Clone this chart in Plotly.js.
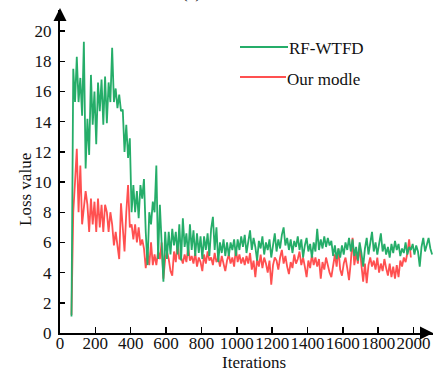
<!DOCTYPE html>
<html><head><meta charset="utf-8">
<script src="https://cdn.plot.ly/plotly-3.0.1.min.js"></script>
<style>html,body{margin:0;padding:0;background:#fff}#chart{width:440px;height:371px}</style>
</head><body><div id="chart"></div>
<script>
const iterations = [
  65,75,85,95,105,115,125,135,145,155,
  165,175,185,195,205,215,225,235,245,255,
  265,275,285,295,305,315,325,335,345,355,
  365,375,385,395,405,415,425,435,445,455,
  465,475,485,495,505,515,525,535,545,555,
  565,575,585,595,605,615,625,635,645,655,
  665,675,685,695,705,715,725,735,745,755,
  765,775,785,795,805,815,825,835,845,855,
  865,875,885,895,905,915,925,935,945,955,
  965,975,985,995,1005,1015,1025,1035,1045,1055,
  1065,1075,1085,1095,1105,1115,1125,1135,1145,1155,
  1165,1175,1185,1195,1205,1215,1225,1235,1245,1255,
  1265,1275,1285,1295,1305,1315,1325,1335,1345,1355,
  1365,1375,1385,1395,1405,1415,1425,1435,1445,1455,
  1465,1475,1485,1495,1505,1515,1525,1535,1545,1555,
  1565,1575,1585,1595,1605,1615,1625,1635,1645,1655,
  1665,1675,1685,1695,1705,1715,1725,1735,1745,1755,
  1765,1775,1785,1795,1805,1815,1825,1835,1845,1855,
  1865,1875,1885,1895,1905,1915,1925,1935,1945,1955,
  1965,1975,1985,1995,2005,2015,2025,2035,2045,2055,
  2065,2075,2085,2095,2105
];
const rfwtfdLoss = [
  1.1,17.5,15.3,18.3,15.3,16.9,14.4,19.3,10.9,14.2,
  11.8,17.1,13.8,16.0,12.5,16.6,14.7,16.8,13.8,17.0,
  13.9,16.6,15.3,18.9,15.3,16.2,14.9,15.8,14.7,14.8,
  12.0,13.8,11.6,12.9,8.0,9.8,8.0,9.4,7.6,9.8,
  8.9,10.2,6.7,4.5,8.0,7.2,8.7,8.0,11.1,4.9,
  8.5,6.0,3.4,6.7,4.9,6.7,5.2,6.9,5.8,6.7,
  5.2,7.2,4.8,7.6,5.7,6.6,5.1,7.2,5.5,6.8,
  5.1,6.6,5.3,6.4,4.9,6.4,5.5,6.6,5.1,6.9,
  7.7,5.5,7.0,4.7,6.0,5.3,6.2,5.1,6.0,5.1,
  6.0,5.5,6.2,5.1,6.2,5.5,6.4,5.7,6.5,5.3,
  6.2,6.8,5.5,6.3,5.7,4.8,6.1,5.6,6.4,5.2,
  6.0,5.5,6.2,5.0,5.8,6.6,5.4,6.2,5.6,6.5,
  7.0,5.8,6.3,5.5,6.2,5.3,6.1,5.7,6.4,5.5,
  6.2,5.0,5.8,6.3,5.4,5.9,5.0,6.0,5.4,6.9,
  5.5,6.2,5.6,6.4,5.7,6.3,5.8,6.1,5.1,5.8,
  4.9,5.6,5.0,5.8,5.2,6.0,5.5,6.3,5.4,6.2,
  5.1,5.7,4.8,6.0,5.3,4.4,5.6,6.3,5.2,5.9,
  6.7,5.4,6.0,5.2,5.8,6.6,5.4,5.9,5.2,5.7,
  5.0,5.9,5.3,6.1,5.5,5.9,5.1,5.6,5.3,6.0,
  5.2,5.7,5.5,5.9,5.2,5.8,5.4,4.4,5.7,6.3,
  5.4,5.9,6.3,5.6,5.2
];
const ourModelLoss = [
  1.2,8.0,10.0,12.2,8.0,11.1,7.2,8.5,9.4,8.5,
  6.7,8.9,7.2,8.7,6.7,8.9,7.0,8.5,6.7,8.5,
  8.0,6.7,8.0,7.2,5.8,6.7,5.8,4.9,8.6,7.2,
  5.4,8.0,9.8,7.0,7.2,6.2,7.2,6.0,7.0,5.8,
  6.2,5.6,4.3,5.4,4.5,6.0,4.5,5.2,4.5,5.4,
  4.9,6.0,3.6,4.9,5.4,4.9,4.1,3.8,5.4,4.7,
  6.0,4.9,5.0,4.6,5.2,4.7,5.7,4.8,5.1,4.6,
  5.3,4.4,5.0,4.7,4.1,5.2,4.6,5.4,4.8,5.0,
  4.5,5.3,4.7,5.0,4.4,5.1,4.6,4.1,4.8,5.2,
  4.6,5.0,4.4,5.6,4.7,5.2,4.6,5.0,4.5,5.1,
  4.6,5.3,4.2,4.8,3.7,4.9,4.4,5.2,4.3,5.0,
  4.6,4.0,4.8,3.2,4.5,5.0,4.8,4.2,5.0,5.5,
  4.6,5.1,4.4,3.9,4.7,4.3,5.2,4.6,4.9,5.4,
  4.5,5.0,4.4,3.7,4.8,4.3,5.2,4.5,5.0,4.4,
  4.9,3.6,4.7,4.2,5.0,4.4,4.0,3.7,4.6,5.2,
  4.4,5.6,4.2,3.8,4.6,5.0,4.3,3.5,4.7,6.3,
  4.5,5.3,4.6,5.8,4.5,3.4,4.6,3.3,4.5,5.0,
  4.4,4.8,4.2,5.0,4.0,4.6,4.1,4.9,4.3,3.8,
  4.6,3.7,4.4,3.6,4.5,3.7,4.8,4.4,5.0,4.7,
  5.3,6.2,5.0
];
const seriesNames = ["RF-WTFD", "Our modle"];
const xTicks = [0,200,400,600,800,1000,1200,1400,1600,1800,2000];
const yTicks = [0,2,4,6,8,10,12,14,16,18,20];
const xTitle = "Iterations";
const yTitle = "Loss value";
const panelLabel = "(a)";

const W = 440, H = 371;
const M = {l: 60, r: 7, t: 10, b: 38};
const pw = W - M.l - M.r, ph = H - M.t - M.b;
const px = v => (v - M.l) / pw;      // pixel x -> paper
const py = v => (H - M.b - v) / ph;  // pixel y -> paper

const GREEN = '#25ad69', RED = '#ff5050';
const FONT = 'Liberation Serif, Times New Roman, serif';

const traces = [
  {x: iterations.slice(0, ourModelLoss.length), y: ourModelLoss, name: seriesNames[1], type: 'scatter', mode: 'lines',
   line: {color: RED, width: 1.8}, showlegend: false},
  {x: iterations.slice(0, rfwtfdLoss.length), y: rfwtfdLoss, name: seriesNames[0], type: 'scatter', mode: 'lines',
   line: {color: GREEN, width: 1.8}, showlegend: false}
];

const axisCommon = {
  showline: true, linecolor: '#000', linewidth: 2, showgrid: false, zeroline: false,
  ticks: 'inside', tickwidth: 1.5, tickcolor: '#000', tickangle: 0,
  tickfont: {family: FONT, size: 17, color: '#111'}
};

const layout = {
  width: W, height: H, margin: M,
  paper_bgcolor: '#fff', plot_bgcolor: '#fff',
  showlegend: false,
  xaxis: Object.assign({}, axisCommon, {range: [0, 2110], tickvals: xTicks, ticktext: xTicks.map(String), ticklen: 6, ticklabelstandoff: -6}),
  yaxis: Object.assign({}, axisCommon, {range: [0, 21.4], tickvals: yTicks, ticktext: yTicks.map(String), ticklen: 5, ticklabelstandoff: 3}),
  shapes: [
    {type: 'line', xref: 'paper', yref: 'paper', x0: px(240), x1: px(288), y0: py(47), y1: py(47), line: {color: GREEN, width: 2}},
    {type: 'line', xref: 'paper', yref: 'paper', x0: px(240), x1: px(286), y0: py(77), y1: py(77), line: {color: RED, width: 2}}
  ],
  annotations: [
    {xref: 'paper', yref: 'paper', x: 1, y: 0, ax: -14, ay: 0, text: '', showarrow: true, arrowhead: 2, arrowsize: 1.3, arrowwidth: 2, arrowcolor: '#000'},
    {xref: 'paper', yref: 'paper', x: 0, y: py(8), ax: 0, ay: 14, text: '', showarrow: true, arrowhead: 2, arrowsize: 1.3, arrowwidth: 2, arrowcolor: '#000'},
    {xref: 'paper', yref: 'paper', x: px(287), y: py(48), xanchor: 'left', yanchor: 'middle', text: seriesNames[0], showarrow: false, font: {family: FONT, size: 17, color: '#111'}},
    {xref: 'paper', yref: 'paper', x: px(285), y: py(79), xanchor: 'left', yanchor: 'middle', text: seriesNames[1], showarrow: false, font: {family: FONT, size: 17, color: '#111'}},
    {xref: 'paper', yref: 'paper', x: px(25), y: py(190), xanchor: 'center', yanchor: 'middle', textangle: -90, text: yTitle, showarrow: false, font: {family: FONT, size: 17, color: '#111'}},
    {xref: 'paper', yref: 'paper', x: px(254), y: py(362), xanchor: 'center', yanchor: 'middle', text: xTitle, showarrow: false, font: {family: FONT, size: 17, color: '#111'}},
    {xref: 'paper', yref: 'paper', x: px(191), y: py(4), xanchor: 'center', yanchor: 'bottom', text: panelLabel, showarrow: false, font: {family: FONT, size: 17, color: '#111'}}
  ]
};

Plotly.newPlot('chart', traces, layout, {staticPlot: true, displayModeBar: false});
</script>
</body></html>
